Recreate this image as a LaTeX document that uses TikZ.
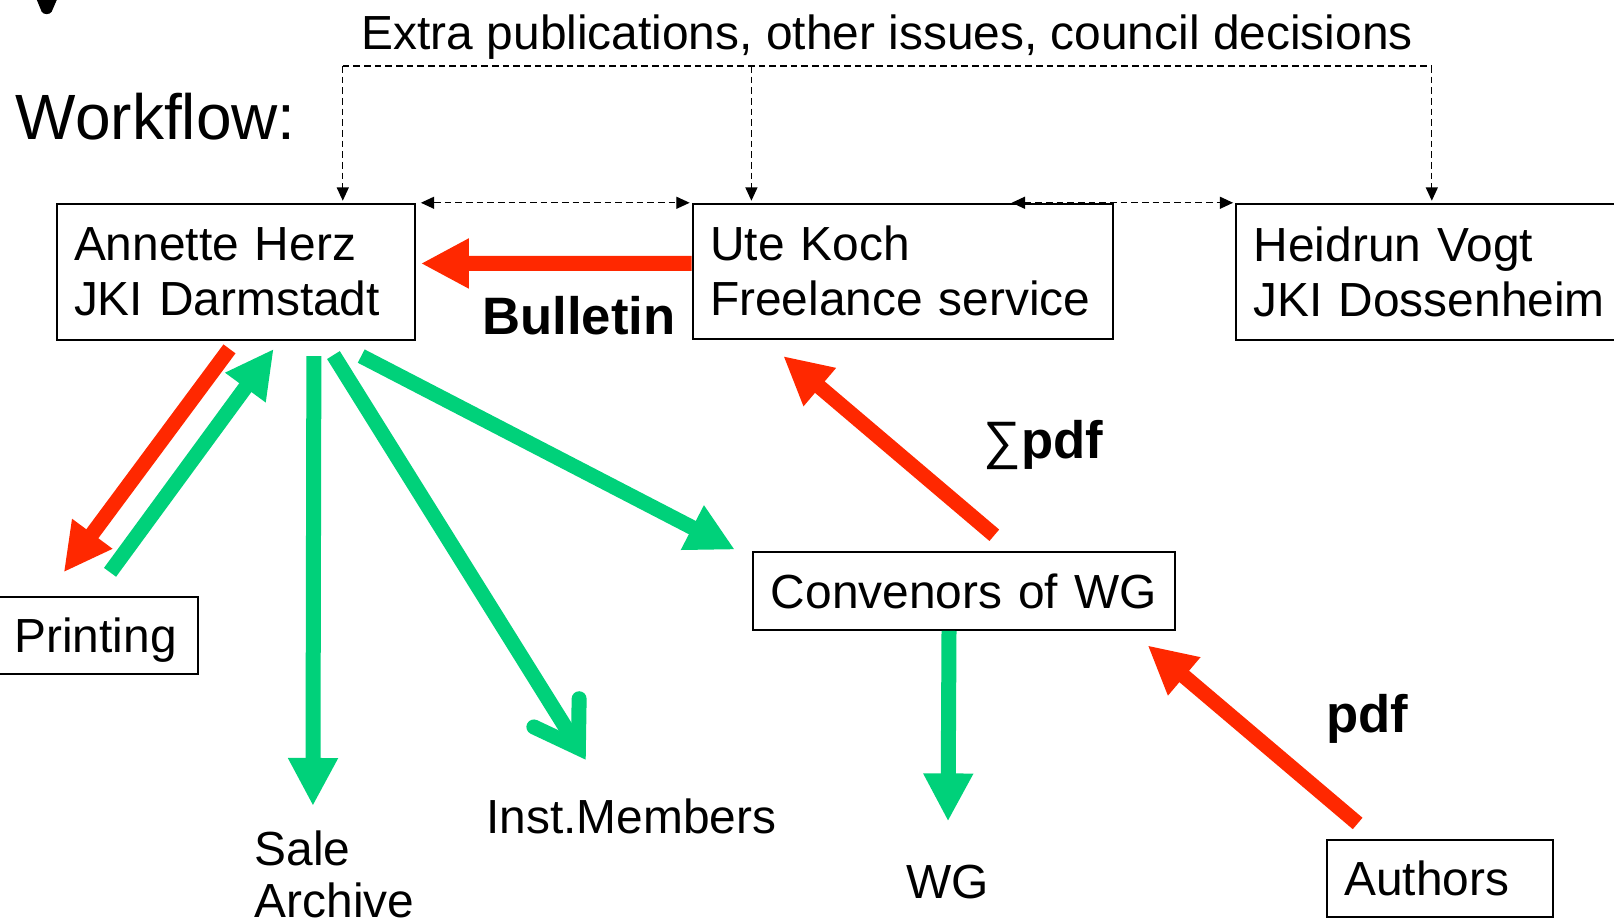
\documentclass[tikz,border=0pt]{standalone}
\usepackage{fontspec}
\setmainfont{Liberation Sans}
\usetikzlibrary{arrows.meta,calc}

\definecolor{flowred}{RGB}{255,40,0}
\definecolor{flowgreen}{RGB}{0,209,122}

\tikzset{every picture/.style={line width=0.75pt}}
\tikzset{
  box/.style={draw, line width=1.5pt, anchor=north west, inner xsep=13.1pt, inner ysep=0pt,
    align=left, font=\fontsize{35.9}{41}\selectfont},
  onebox/.style={box, text depth=0pt},
  txt/.style={anchor=base west, inner sep=0pt, align=left, font=\fontsize{35.9}{38.6}\selectfont},
  bold/.style={anchor=base west, inner sep=0pt, font=\fontsize{39.5}{44}\selectfont\bfseries},
  dashline/.style={dash pattern=on 5pt off 3pt, line width=1pt},
  redflow/.style={draw=flowred, line width=11.25pt, -{Triangle[length=36pt,width=35pt]}},
  greenflow/.style={draw=flowgreen, line width=11.25pt, -{Triangle[length=36pt,width=35pt]}},
  greenbarb/.style={draw=flowgreen, line width=11.25pt,
    -{Straight Barb[length=31pt,width=40pt,line cap=round,line join=miter]}},
}

\begin{document}
\begin{tikzpicture}[x=0.772pt,y=0.772pt,yscale=-1,xscale=1,>={Triangle[length=10pt,width=9pt]}]
	\useasboundingbox (0,0) rectangle (1568,897);
	
	%Shape: cut glyph at the top edge
	\fill (35,-2) -- (40.5,11.4) .. controls (42.5,14.5) and (48.2,14.5) .. (50.2,11.4) -- (56,-2) -- cycle;
	
	% Text Node
	\draw (15,136) node [anchor=base west][inner sep=0pt][font=\fontsize{48}{54}\selectfont] (title) {Workflow:};
	% Text Node
	\draw (351,48) node [txt] (extra) {Extra publications, other issues, council decisions};
	
	%Boxes
	\draw (54,197) node [box, text width=242.4pt, minimum height=101.9pt] (annette) {Annette Herz\\JKI Darmstadt};
	\draw (672,197) node [box, text width=288.7pt, minimum height=101.1pt] (ute) {Ute Koch\\Freelance service};
	\draw (1200,197) node [box, text width=298pt, minimum height=101.9pt] (heidrun) {Heidrun Vogt\\JKI Dossenheim};
	\draw (-4,579) node [onebox, text width=125pt, minimum height=57.9pt] (printing) {Printing};
	\draw (731,535) node [onebox, text width=290.3pt, minimum height=58.7pt] (convenors) {Convenors of WG};
	\draw (1288,815) node [onebox, text width=143.6pt, minimum height=57.9pt] (authors) {Authors};
	
	% Text Node
	\draw (247,891) node [txt] (sale) {Sale\\Archive};
	% Text Node
	\draw (472,810) node [txt] (inst) {Inst.Members};
	% Text Node
	\draw (880,873) node [txt] (wg) {WG};
	% Text Node
	\draw (468,325) node [bold] (bulletin) {Bulletin};
	% Text Node
	\draw (955,445) node [bold] (sumpdf) {{\mdseries ∑}pdf};
	% Text Node
	\draw (1288,712) node [bold] (pdf) {pdf};
	
	%Dashed lines
	\coordinate (rail) at (862,64);
	\coordinate (toA) at ($(annette.north west)+(279,-2)$);
	\coordinate (toU) at ($(ute.north west)+(58,-2)$);
	\coordinate (toH) at ($(heidrun.north west)+(191,-2)$);
	\draw [dashline] (toA |- rail) -- (toH |- rail);
	\draw [dashline,->] (toA |- rail) -- (toA);
	\draw [dashline,->] (toU |- rail) -- (toU);
	\draw [dashline,->] (toH |- rail) -- (toH);
	\draw [dashline,<->] ($(annette.north east)+(5,0)$) -- ($(ute.north west)+(-2,0)$);
	\draw [dashline,<->] ($(ute.north east)+(-99,0)$) -- ($(heidrun.north west)+(-2,0)$);
	
	%Red arrows
	\draw [redflow] ($(ute.west)+(0,-7.5)$) -- ($(annette.east)+(5,-8)$);
	\draw [redflow] ($(annette.south)+(-6,8)$) -- ($(printing.north)+(-33,-23)$);
	\draw [redflow] ($(convenors.north)+(29,-15)$) -- ($(ute.south)+(-116,16)$);
	\draw [redflow] ($(authors.north)+(-80,-15)$) -- ($(convenors.south east)+(-28,14)$);
	
	%Green arrows
	\draw [greenflow] ($(printing.north)+(12,-23)$) -- ($(annette.south)+(37,8)$);
	\draw [greenflow] ($(annette.south)+(76,15)$) -- ($(sale.base west)+(57,-108)$);
	\draw [greenbarb] ($(annette.south)+(95,14)$) -- ($(inst.base west)+(97,-72)$);
	\draw [greenflow] ($(annette.south)+(122,15)$) -- ($(convenors.north west)+(-17,-1)$);
	\draw [greenflow] ($(convenors.south)+(-15,0)$) -- ($(wg.base west)+(41,-75)$);
	
\end{tikzpicture}
\end{document}
